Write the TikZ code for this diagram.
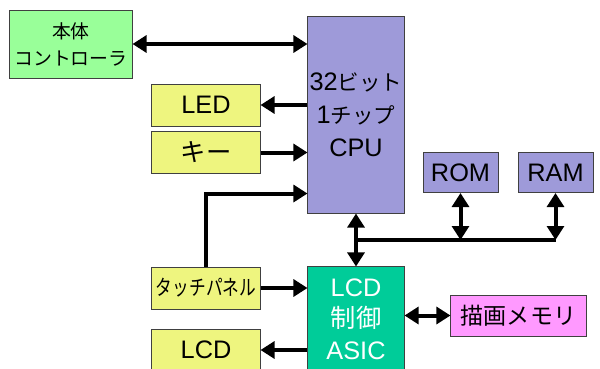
\documentclass[tikz,border=0pt]{standalone}
\usepackage{fontspec}
\setmainfont{Liberation Sans}
\newfontfamily\jp{Noto Sans CJK JP}
\newfontfamily\jps[Scale=0.85]{Noto Sans CJK JP}
\newfontfamily\jpn[FakeStretch=0.78]{Noto Sans CJK JP}
\usepackage{tikz}
\usetikzlibrary{positioning,arrows.meta,calc}
\usepackage{xcolor}
\definecolor{ctrlgreen}{HTML}{99FF99}
\definecolor{cpupurple}{HTML}{9E9AD9}
\definecolor{ioyellow}{HTML}{EEF57F}
\definecolor{asicgreen}{HTML}{00CC99}
\definecolor{mempink}{HTML}{FF99FF}

\begin{document}
\begin{tikzpicture}[
    x=0.025cm, y=-0.025cm,
    blockNode/.style={rectangle, draw=black!75, line width=0.7pt, inner sep=0pt, align=center},
    ctrlBox/.style={blockNode, fill=ctrlgreen, minimum width=3.05cm, minimum height=1.7cm, font=\jp\fontsize{13.4}{19.2}\selectfont},
    cpuBox/.style={blockNode, fill=cpupurple, font=\fontsize{18}{23.4}\selectfont},
    ioBox/.style={blockNode, fill=ioyellow, minimum width=2.7cm, minimum height=1.05cm, font=\fontsize{18}{22}\selectfont},
    asicBox/.style={blockNode, fill=asicgreen, text=white, minimum width=2.4cm, minimum height=2.6cm, font=\fontsize{18}{22.4}\selectfont},
    memBox/.style={blockNode, fill=mempink, minimum width=3.375cm, minimum height=1.025cm, font=\jp\fontsize{16.4}{20}\selectfont},
    oneWay/.style={-{Triangle[length=0.35cm, width=0.42cm]}, line width=0.1cm},
    twoWay/.style={{Triangle[length=0.35cm, width=0.42cm]}-{Triangle[length=0.35cm, width=0.42cm]}, line width=0.1cm},
    busLine/.style={line width=0.1cm}
]
    \clip (0,0) rectangle (600,369);

    \node[ctrlBox] (ctrl) at (71,44) {本体\\コントローラ};
    \node[cpuBox, minimum width=2.4cm, minimum height=4.9cm] (cpu) at (356,115) {32{\jps ビット}\\1{\jps チップ}\\CPU};
    \node[ioBox] (led) at (206,105) {LED};
    \node[ioBox, font=\jp\fontsize{18}{22}\selectfont] (key) at (206,152.5) {キー};
    \node[ioBox, font=\jpn\fontsize{15.2}{18}\selectfont] (touch) at (206,288) {タッチパネル};
    \node[ioBox] (lcd) at (206,350) {LCD};
    \node[asicBox] (asic) at (356,319) {LCD\\{\jp 制御}\\ASIC};
    \node[memBox] (mem) at (518.5,315.5) {描画メモリ};
    \node[cpuBox, minimum width=1.875cm, minimum height=1cm] (rom) at (460.5,172.5) {ROM};
    \node[cpuBox, minimum width=1.875cm, minimum height=1cm] (ram) at (555.5,172.5) {RAM};

    \coordinate (tIn) at ($(cpu.south west)+(0,-20)$);
    \coordinate (busL) at ($(cpu.south)!0.5!(asic.north)$);

    \draw[twoWay] (ctrl.east) -- (ctrl.east -| cpu.west);
    \draw[oneWay] (cpu.west |- led.east) -- (led.east);
    \draw[oneWay] (key.east) -- (key.east -| cpu.west);
    \draw[oneWay] (touch.north) |- (tIn);
    \draw[twoWay] (cpu.south) -- (asic.north);
    \draw[busLine] (busL) -- (busL -| ram.south);
    \draw[twoWay] (busL -| rom.south) -- (rom.south);
    \draw[twoWay] (busL -| ram.south) -- (ram.south);
    \draw[oneWay] (touch.east) -- (touch.east -| asic.west);
    \draw[twoWay] (asic.east |- mem.west) -- (mem.west);
    \draw[oneWay] (asic.west |- lcd.east) -- (lcd.east);
\end{tikzpicture}
\end{document}
